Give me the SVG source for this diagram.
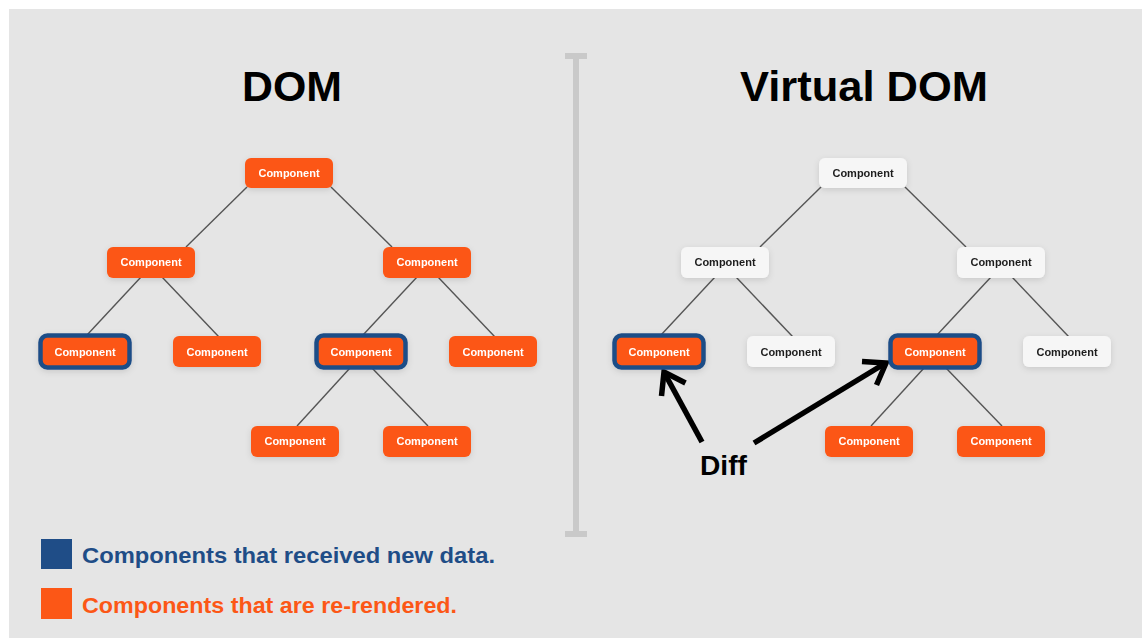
<svg xmlns="http://www.w3.org/2000/svg" width="1142" height="638" viewBox="0 0 1142 638">
<defs>
<filter id="sh" x="-20%" y="-30%" width="140%" height="170%">
<feDropShadow dx="0" dy="2" stdDeviation="3" flood-color="#000" flood-opacity="0.12"/>
</filter>
<style>
.n{fill:#fc5716;}
.w{fill:#f6f6f6;}
.b{fill:#fc5716;stroke:#1f4d87;stroke-width:4.5;}
.t{font-family:"Liberation Sans",Arial,sans-serif;font-weight:bold;font-size:11px;text-anchor:middle;fill:#fff;}
.tk{fill:#1e1e1e;}
.ln{stroke:#555;stroke-width:1.4;fill:none;}
.ar{stroke:#000;stroke-width:5.5;fill:none;stroke-linecap:butt;stroke-linejoin:miter;}
.h{font-family:"Liberation Sans",Arial,sans-serif;font-weight:bold;fill:#000;}
.lg{font-family:"Liberation Sans",Arial,sans-serif;font-weight:bold;font-size:22px;}
</style>
</defs>
<rect x="0" y="0" width="1142" height="638" fill="#fff"/>
<rect x="9" y="9" width="1133" height="629" fill="#e5e5e5"/>
<g id="separator" fill="#c9c9c9">
<rect x="573" y="56" width="6" height="478"/>
<rect x="565" y="53" width="22" height="6"/>
<rect x="565" y="531" width="22" height="6"/>
</g>
<text class="h" x="242" y="101" font-size="42" textLength="100" lengthAdjust="spacingAndGlyphs">DOM</text>
<text class="h" x="740" y="101" font-size="42" textLength="248" lengthAdjust="spacingAndGlyphs">Virtual DOM</text>
<g id="connectors">
<g class="ln">
<line x1="247" y1="187" x2="186" y2="247"/>
<line x1="331" y1="187" x2="392" y2="247"/>
<line x1="141" y1="277" x2="87" y2="335"/>
<line x1="162" y1="277" x2="219" y2="337"/>
<line x1="417" y1="277" x2="363" y2="335"/>
<line x1="438" y1="277" x2="495" y2="337"/>
<line x1="350" y1="368" x2="297" y2="426"/>
<line x1="372" y1="368" x2="428" y2="426"/>
<line x1="821" y1="187" x2="760" y2="247"/>
<line x1="905" y1="187" x2="966" y2="247"/>
<line x1="715" y1="277" x2="661" y2="335"/>
<line x1="736" y1="277" x2="793" y2="337"/>
<line x1="991" y1="277" x2="937" y2="335"/>
<line x1="1012" y1="277" x2="1069" y2="337"/>
<line x1="924" y1="368" x2="871" y2="426"/>
<line x1="946" y1="368" x2="1002" y2="426"/>
</g>
<g class="ar">
<line x1="702" y1="442" x2="665" y2="374"/>
<polyline points="661.5,396 664,372 685.5,383"/>
<line x1="754" y1="443" x2="884" y2="364"/>
<polyline points="862,361.5 886,363 876.5,385"/>
</g>
</g>
<g id="dom-root" filter="url(#sh)"><rect class="n" x="245" y="158" width="88" height="30" rx="6"/><text class="t" x="289" y="177">Component</text></g>
<g id="dom-l1a" filter="url(#sh)"><rect class="n" x="107" y="247" width="88" height="31" rx="6"/><text class="t" x="151" y="266">Component</text></g>
<g id="dom-l1b" filter="url(#sh)"><rect class="n" x="383" y="247" width="88" height="31" rx="6"/><text class="t" x="427" y="266">Component</text></g>
<g id="dom-l2a" filter="url(#sh)"><rect class="b" x="40.5" y="335.5" width="89" height="32" rx="7"/><text class="t" x="85" y="356">Component</text></g>
<g id="dom-l2b" filter="url(#sh)"><rect class="n" x="173" y="336" width="88" height="31" rx="6"/><text class="t" x="217" y="356">Component</text></g>
<g id="dom-l2c" filter="url(#sh)"><rect class="b" x="316.5" y="335.5" width="89" height="32" rx="7"/><text class="t" x="361" y="356">Component</text></g>
<g id="dom-l2d" filter="url(#sh)"><rect class="n" x="449" y="336" width="88" height="31" rx="6"/><text class="t" x="493" y="356">Component</text></g>
<g id="dom-l3a" filter="url(#sh)"><rect class="n" x="251" y="426" width="88" height="31" rx="6"/><text class="t" x="295" y="445">Component</text></g>
<g id="dom-l3b" filter="url(#sh)"><rect class="n" x="383" y="426" width="88" height="31" rx="6"/><text class="t" x="427" y="445">Component</text></g>
<g id="vdom-root" filter="url(#sh)"><rect class="w" x="819" y="158" width="88" height="30" rx="6"/><text class="t tk" x="863" y="177">Component</text></g>
<g id="vdom-l1a" filter="url(#sh)"><rect class="w" x="681" y="247" width="88" height="31" rx="6"/><text class="t tk" x="725" y="266">Component</text></g>
<g id="vdom-l1b" filter="url(#sh)"><rect class="w" x="957" y="247" width="88" height="31" rx="6"/><text class="t tk" x="1001" y="266">Component</text></g>
<g id="vdom-l2a" filter="url(#sh)"><rect class="b" x="614.5" y="335.5" width="89" height="32" rx="7"/><text class="t" x="659" y="356">Component</text></g>
<g id="vdom-l2b" filter="url(#sh)"><rect class="w" x="747" y="336" width="88" height="31" rx="6"/><text class="t tk" x="791" y="356">Component</text></g>
<g id="vdom-l2c" filter="url(#sh)"><rect class="b" x="890.5" y="335.5" width="89" height="32" rx="7"/><text class="t" x="935" y="356">Component</text></g>
<g id="vdom-l2d" filter="url(#sh)"><rect class="w" x="1023" y="336" width="88" height="31" rx="6"/><text class="t tk" x="1067" y="356">Component</text></g>
<g id="vdom-l3a" filter="url(#sh)"><rect class="n" x="825" y="426" width="88" height="31" rx="6"/><text class="t" x="869" y="445">Component</text></g>
<g id="vdom-l3b" filter="url(#sh)"><rect class="n" x="957" y="426" width="88" height="31" rx="6"/><text class="t" x="1001" y="445">Component</text></g>
<text class="h" x="700" y="475" font-size="28" textLength="47" lengthAdjust="spacingAndGlyphs">Diff</text>
<g id="legend">
<rect x="41" y="539" width="31" height="30" fill="#1f4d87"/>
<text class="lg" x="82" y="563" fill="#1f4d87" textLength="413" lengthAdjust="spacingAndGlyphs">Components that received new data.</text>
<rect x="41" y="588" width="31" height="31" fill="#fc5716"/>
<text class="lg" x="82" y="613" fill="#fc5716" textLength="375" lengthAdjust="spacingAndGlyphs">Components that are re-rendered.</text>
</g>
</svg>
